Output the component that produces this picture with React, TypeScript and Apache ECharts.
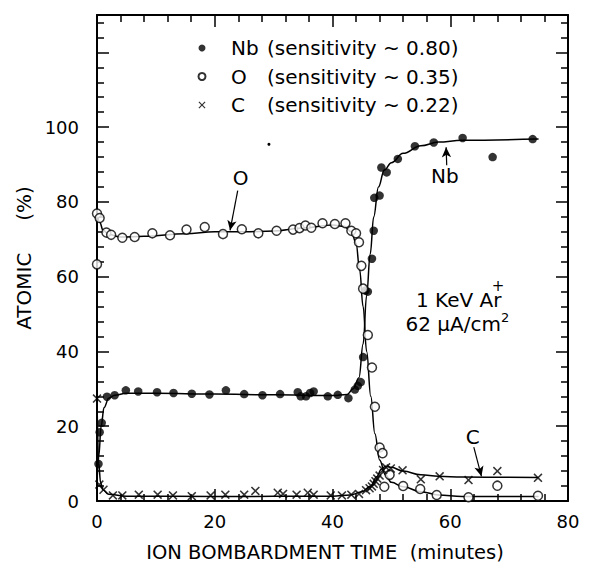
import React, { useEffect, useRef } from "react";
import * as echarts from "echarts";

const FONT = "DejaVu Sans";

const xTickLabels = ["0", "20", "40", "60", "80"];
const yTickLabels = ["0", "20", "40", "60", "80", "100"];

// Nb (filled circles)
const nbTime = [0.25, 0.45, 0.8, 1.7, 3.0, 4.9, 7.0, 10.2, 13.0, 16.1, 19.1, 21.9, 25.0, 28.1, 31.1, 34.1, 34.6, 35.5, 36.2, 36.8, 39.2, 40.9, 42.7, 43.8, 44.3, 44.8, 45.2, 45.6, 46.0, 46.7, 47.0, 47.1, 48.0, 48.3, 49.2, 51.1, 54.0, 57.2, 62.1, 67.2, 74.0];
const nbValue = [9.9, 18.4, 20.9, 27.9, 28.3, 29.6, 29.3, 29.1, 28.9, 28.7, 28.5, 29.6, 28.6, 28.3, 28.6, 29.1, 28.0, 28.0, 28.9, 29.3, 28.0, 28.4, 27.5, 29.8, 30.8, 31.8, 38.5, 56.3, 56.0, 64.8, 72.3, 81.1, 81.7, 89.2, 87.9, 91.5, 94.9, 95.9, 97.1, 92.0, 96.8];

// O (open circles)
const oTime = [0, 0, 0.45, 1.6, 2.4, 4.3, 6.4, 9.4, 12.4, 15.2, 18.3, 21.4, 24.6, 27.4, 30.5, 33.3, 34.4, 35.4, 36.4, 38.3, 40.4, 42.2, 43.2, 44.0, 44.5, 44.9, 45.2, 46.0, 46.7, 47.2, 48.0, 48.5, 48.8, 49.7, 52.0, 54.9, 57.7, 63.1, 68.0, 74.9];
const oValue = [63.3, 76.9, 75.7, 71.8, 71.2, 70.4, 70.6, 71.6, 71.1, 72.6, 73.3, 71.4, 72.7, 71.6, 72.3, 72.6, 73.0, 73.7, 73.1, 74.3, 74.1, 74.3, 72.3, 71.6, 69.2, 62.9, 56.8, 44.4, 35.7, 25.2, 14.3, 12.8, 3.8, 7.0, 4.0, 3.2, 1.6, 1.0, 4.1, 1.4];

// C (crosses)
const cTime = [0, 0.4, 1.1, 2.7, 4.3, 7.1, 10.3, 12.9, 16.1, 19.3, 21.8, 25.0, 26.9, 30.7, 31.6, 33.9, 35.8, 36.8, 39.7, 41.6, 43.2, 44.5, 45.7, 46.3, 46.7, 47.0, 47.3, 47.6, 48.0, 48.6, 49.1, 49.9, 51.9, 55.0, 58.2, 63.1, 68.0, 74.9];
const cValue = [27.4, 4.4, 3.0, 1.5, 1.5, 1.7, 1.7, 1.5, 1.3, 1.5, 1.7, 1.7, 2.7, 2.2, 1.9, 1.7, 2.2, 1.7, 1.5, 1.5, 1.7, 1.9, 2.9, 3.4, 3.9, 4.6, 5.3, 6.0, 6.8, 8.3, 9.0, 8.7, 8.2, 5.8, 6.6, 5.6, 8.0, 6.2];

// Hand-drawn fit curves
const nbFitTime = [0, 0.3, 0.7, 1.2, 2, 3, 5, 10, 20, 30, 40, 42.5, 43.5, 44.5, 45.2, 45.8, 46.4, 47, 47.8, 48.8, 50, 52, 55, 58, 62, 75];
const nbFitValue = [5, 12, 20, 25, 27.5, 28.3, 28.8, 28.8, 28.6, 28.4, 28.2, 28.5, 30, 33, 42, 55, 66, 76, 84, 88.5, 90.5, 93, 95, 96, 96.5, 96.8];
const oFitTime = [0, 0.5, 1, 2, 4, 8, 15, 20, 25, 30, 35, 40, 42, 43.2, 44, 44.6, 45.2, 45.8, 46.5, 47.2, 48, 49, 50, 52, 55, 58, 62, 75];
const oFitValue = [77, 74.5, 72.5, 71.3, 70.6, 70.8, 71.5, 72, 72, 72.2, 73, 73.8, 73.5, 72, 69, 62, 52, 40, 28, 18, 11, 7, 5, 3.8, 2.5, 1.6, 1.2, 1.2];
const cFitTime = [0, 0.3, 0.6, 1, 2, 5, 20, 40, 43, 45, 46.5, 47.5, 48.3, 49, 50, 52, 55, 58, 62, 75];
const cFitValue = [27, 10, 5, 3, 1.8, 1.3, 1.2, 1.3, 1.6, 2.5, 4, 6.5, 8.5, 9.3, 9, 8, 7, 6.6, 6.4, 6.3];

const legendNames = ["Nb", "O", "C"];
const legendSens = ["0.80", "0.35", "0.22"];

const CROSS = "path://M0,1.2L1.2,0L5,3.8L8.8,0L10,1.2L6.2,5L10,8.8L8.8,10L5,6.2L1.2,10L0,8.8L3.8,5Z";

const zip = (a: number[], b: number[]) => a.map((v, i) => [v, b[i]]);

export default function App() {
  const ref = useRef<HTMLDivElement>(null);
  useEffect(() => {
    document.body.style.margin = "0";
    const chart = echarts.init(ref.current!, null, { renderer: "svg" });
    const tickStyle = { color: "#000", width: 1.5 };
    const baseX = {
      type: "value",
      min: 0,
      max: 80,
      interval: 20,
      axisLine: { show: true, onZero: false, lineStyle: { color: "#000", width: 2 } },
      axisTick: { show: true, inside: true, length: 12, lineStyle: tickStyle },
      minorTick: { show: true, splitNumber: 5, length: 7, lineStyle: tickStyle },
      splitLine: { show: false },
    };
    const baseY = {
      type: "value",
      min: 0,
      max: 130,
      interval: 20,
      axisLine: { show: true, onZero: false, lineStyle: { color: "#000", width: 2 } },
      axisTick: { show: true, inside: true, length: 12, lineStyle: tickStyle },
      minorTick: { show: true, splitNumber: 5, length: 7, lineStyle: tickStyle },
      splitLine: { show: false },
    };
    const fitLine = (name: string, t: number[], v: number[], extra: any = {}) => ({
      type: "line",
      name: name + " fit",
      data: zip(t, v),
      showSymbol: false,
      symbol: "none",
      smooth: 0.4,
      smoothMonotone: "x",
      silent: true,
      lineStyle: { color: "#000", width: 1.5 },
      z: 2,
      ...extra,
    });
    const arrow = (from: number[], to: number[]) => [
      { coord: from, symbol: "none" },
      { coord: to, symbol: "arrow" },
    ];
    const mark = (from: number[], to: number[]) => ({
      silent: true,
      symbolSize: [7, 10],
      label: { show: false },
      lineStyle: { color: "#000", width: 1.2, type: "solid" },
      data: [arrow(from, to)],
    });
    const option: any = {
      animation: false,
      backgroundColor: "#fff",
      textStyle: { fontFamily: FONT },
      grid: { left: 97, right: 24, top: 15, bottom: 64 },
      xAxis: [
        {
          ...baseX,
          position: "bottom",
          axisLabel: {
            color: "#000",
            fontSize: 18,
            fontFamily: FONT,
            margin: 11,
            formatter: (v: number) => xTickLabels[Math.round(v / 20)] ?? "",
          },
          name: "ION BOMBARDMENT TIME  (minutes)",
          nameLocation: "middle",
          nameGap: 41,
          nameTextStyle: { color: "#000", fontSize: 19.5, fontFamily: FONT, padding: [0, 15, 0, 0] },
        },
        { ...baseX, position: "top", axisLabel: { show: false } },
      ],
      yAxis: [
        {
          ...baseY,
          position: "left",
          axisLabel: {
            color: "#000",
            fontSize: 18,
            fontFamily: FONT,
            margin: 18,
            formatter: (v: number) => yTickLabels[Math.round(v / 20)] ?? "",
          },
          name: "ATOMIC     (%)",
          nameLocation: "middle",
          nameGap: 60,
          nameTextStyle: { color: "#000", fontSize: 20, fontFamily: FONT },
        },
        { ...baseY, position: "right", axisLabel: { show: false } },
      ],
      legend: {
        orient: "vertical",
        left: 192.5,
        top: 33,
        itemWidth: 7,
        itemHeight: 7,
        itemGap: 8.5,
        data: [
          { name: "Nb", icon: "circle" },
          { name: "O", icon: "circle" },
          { name: "C", icon: CROSS },
        ],
        formatter: (name: string) => {
          const i = legendNames.indexOf(name);
          return `{n|${name}}{s|(sensitivity ~ ${legendSens[i]})}`;
        },
        textStyle: {
          color: "#000",
          fontFamily: FONT,
          fontSize: 20,
          rich: {
            n: { width: 36, padding: [0, 0, 0, 20.5], fontSize: 20, fontFamily: FONT, color: "#000" },
            s: { fontSize: 20, fontFamily: FONT, color: "#000" },
          },
        },
      },
      series: [
        fitLine("Nb", nbFitTime, nbFitValue, { markLine: mark([59.4, 89.8], [59.3, 94.6]) }),
        fitLine("O", oFitTime, oFitValue, { markLine: mark([23.9, 83.0], [22.6, 72.4]) }),
        fitLine("C", cFitTime, cFitValue, { markLine: mark([64.0, 14.4], [65.3, 6.6]) }),
        {
          type: "scatter",
          name: "Nb",
          data: zip(nbTime, nbValue),
          symbol: "circle",
          symbolSize: 8.5,
          itemStyle: { color: "#000" },
          z: 4,
        },
        {
          type: "scatter",
          name: "O",
          data: zip(oTime, oValue),
          symbol: "circle",
          symbolSize: 9,
          itemStyle: { color: "#fff", borderColor: "#000", borderWidth: 1.5 },
          z: 4,
        },
        {
          type: "scatter",
          name: "C",
          data: zip(cTime, cValue),
          symbol: CROSS,
          symbolSize: 9,
          itemStyle: { color: "#000" },
          z: 5,
        },
      ],
    };
    chart.setOption(option);
    const px = (x: number, y: number) =>
      chart.convertToPixel({ xAxisIndex: 0, yAxisIndex: 0 }, [x, y]) as number[];
    const txt = (
      p: number[],
      text: string,
      fontSize = 20,
      align = "center",
      rich: any = undefined,
      lineHeight: number | undefined = undefined
    ) => ({
      type: "text",
      x: p[0],
      y: p[1],
      style: {
        text,
        fill: "#000",
        fontSize,
        fontFamily: FONT,
        align,
        verticalAlign: "middle",
        lineHeight,
        rich,
      },
    });
    const dot = px(29.2, 95.4);
    chart.setOption({
      graphic: [
        txt(px(24.4, 86.4), "O"),
        txt(px(59.1, 86.9), "Nb"),
        txt(px(63.8, 17.0), "C"),
        txt(px(68.7, 53.7), "1 KeV Ar", 20, "right", undefined, 15),
        txt(px(68.1, 57.5), "+", 15, "center", undefined, 10),
        txt(px(61.2, 47.4), "62 μA/cm{s|2}", 20, "center", {
          s: { fontSize: 13, fontFamily: FONT, fill: "#000", padding: [0, 0, 12, 0] },
        }),
        { type: "circle", shape: { cx: dot[0], cy: dot[1], r: 1.5 }, style: { fill: "#000" } },
      ],
    });
    return () => chart.dispose();
  }, []);
  return (
    <div
      ref={ref}
      style={{ position: "fixed", left: 0, top: 0, width: 592, height: 567, background: "#fff" }}
    />
  );
}
